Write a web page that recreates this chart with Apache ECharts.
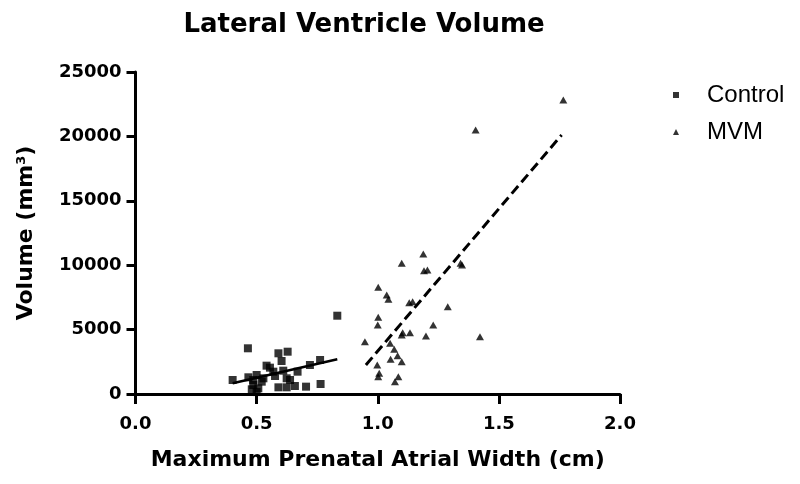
<!DOCTYPE html>
<html>
<head>
<meta charset="utf-8">
<script src="https://cdn.jsdelivr.net/npm/echarts@6/dist/echarts.min.js"></script>
<style>
html,body{margin:0;padding:0;background:#fff;}
#chart{width:800px;height:484px;}
</style>
</head>
<body>
<div id="chart"></div>
<script>
// ---- data ----
var controlX = [0.401,0.464,0.466,0.486,0.486,0.480,0.500,0.500,0.507,0.521,0.528,0.541,0.555,0.569,0.576,0.610,0.590,0.628,0.603,0.590,0.624,0.638,0.624,0.658,0.669,0.704,0.720,0.762,0.764,0.833];
var controlY = [1087,3548,1297,1087,699,365,1475,150,440,958,1219,2200,2045,1733,1398,1811,3160,3285,2562,518,1219,1087,518,621,1733,570,2252,2640,776,6079];
var mvmX = [0.947,0.998,1.002,1.002,1.000,1.002,1.006,1.037,1.044,1.051,1.053,1.068,1.071,1.082,1.085,1.099,1.099,1.099,1.103,1.130,1.133,1.144,1.188,1.191,1.199,1.205,1.229,1.289,1.342,1.348,1.404,1.422,1.766];
var mvmY = [4061,2252,8284,5955,5357,1343,1607,7686,7352,3936,2694,3470,955,2974,1343,10147,4581,2508,4759,7089,4759,7166,10870,9573,4503,9627,5357,6778,10147,10015,20497,4449,22826];
var controlFitX = [0.401, 0.833];
var controlFitY = [831, 2694];
var mvmFitX = [0.951, 1.759];
var mvmFitY = [2252, 20109];
var seriesNames = ['Control', 'MVM'];
var titleText = 'Lateral Ventricle Volume';
var xName = 'Maximum Prenatal Atrial Width (cm)';
var yName = 'Volume (mm{sup|3})';

function pairs(xs, ys){ return xs.map(function(x,i){ return [x, ys[i]]; }); }

var boldFont = 'DejaVu Sans';
var chart = echarts.init(document.getElementById('chart'), null, {renderer:'canvas'});
chart.setOption({
  backgroundColor: '#ffffff',
  animation: false,
  title: {
    text: titleText,
    left: 364,
    top: 12,
    padding: 0,
    textAlign: 'center',
    textStyle: { fontFamily: boldFont, fontWeight: 'bold', fontSize: 26, color: '#000' }
  },
  legend: {
    orient: 'vertical',
    left: 668,
    top: 78,
    itemWidth: 52,
    itemHeight: 6,
    itemGap: 13,
    data: [
      { name: seriesNames[0], icon: 'path://M0,0L10,0L10,10L0,10Z' },
      { name: seriesNames[1], icon: 'path://M5,0L10,10L0,10Z' }
    ],
    textStyle: { fontFamily: 'Liberation Sans', fontSize: 24, color: '#000' },
    itemStyle: { color: '#000' }
  },
  grid: { left: 135.5, right: 180, top: 72, bottom: 90, containLabel: false },
  xAxis: {
    type: 'value', min: 0, max: 2, interval: 0.5,
    name: xName, nameLocation: 'middle', nameGap: 55,
    nameTextStyle: { fontFamily: boldFont, fontWeight: 'bold', fontSize: 22, color: '#000' },
    axisLine: { show: true, onZero: false, lineStyle: { color: '#000', width: 3 } },
    axisTick: { show: true, length: 10, lineStyle: { color: '#000', width: 3 } },
    axisLabel: { margin: 21, color: '#000', fontFamily: boldFont, fontWeight: 'bold', fontSize: 18,
      formatter: function(v){ return v.toFixed(1); } },
    splitLine: { show: false }
  },
  yAxis: {
    type: 'value', min: 0, max: 25000, interval: 5000,
    name: yName, nameLocation: 'middle', nameGap: 98,
    nameTextStyle: { fontFamily: boldFont, fontWeight: 'bold', fontSize: 22, color: '#000',
      rich: { sup: { fontFamily: boldFont, fontWeight: 'bold', fontSize: 13, verticalAlign: 'top', color: '#000' } } },
    axisLine: { show: true, onZero: false, lineStyle: { color: '#000', width: 3 } },
    axisTick: { show: true, length: 9, lineStyle: { color: '#000', width: 3 } },
    axisLabel: { margin: 14, color: '#000', fontFamily: boldFont, fontWeight: 'bold', fontSize: 18,
      formatter: function(v){ return String(v); } },
    splitLine: { show: false }
  },
  series: [
    { name: seriesNames[0], type: 'scatter', symbol: 'rect', symbolSize: 8,
      itemStyle: { color: '#000' }, data: pairs(controlX, controlY), z: 3 },
    { name: seriesNames[1], type: 'scatter', symbol: 'triangle', symbolSize: [8, 7],
      itemStyle: { color: '#000' }, data: pairs(mvmX, mvmY), z: 3 },
    { name: 'Control fit', type: 'line', symbol: 'none', silent: true,
      lineStyle: { color: '#000', width: 2.5, type: 'solid' }, data: pairs(controlFitX, controlFitY), z: 2 },
    { name: 'MVM fit', type: 'line', symbol: 'none', silent: true,
      lineStyle: { color: '#000', width: 3, type: [10, 5] }, data: pairs(mvmFitX, mvmFitY), z: 2 }
  ]
});
</script>
</body>
</html>
